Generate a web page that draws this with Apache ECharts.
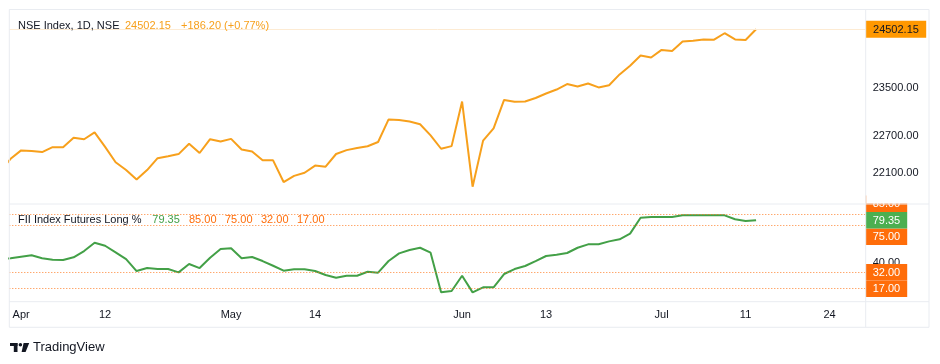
<!DOCTYPE html>
<html><head><meta charset="utf-8">
<script src="https://cdn.jsdelivr.net/npm/echarts@6/dist/echarts.min.js"></script>
<style>html,body{margin:0;padding:0;background:#fff}#c{width:940px;height:364px}</style>
</head><body><div id="c"></div>
<script>
// ---- data ----
const dates = [
 '2024-03-27','2024-03-28',
 '2024-04-01','2024-04-02','2024-04-03','2024-04-04','2024-04-05','2024-04-08','2024-04-09','2024-04-10','2024-04-12','2024-04-15',
 '2024-04-16','2024-04-18','2024-04-19','2024-04-22','2024-04-23','2024-04-24','2024-04-25','2024-04-26','2024-04-29','2024-04-30',
 '2024-05-02','2024-05-03','2024-05-06','2024-05-07','2024-05-08','2024-05-09','2024-05-10','2024-05-13','2024-05-14','2024-05-15',
 '2024-05-16','2024-05-17','2024-05-18','2024-05-21','2024-05-22','2024-05-23','2024-05-24','2024-05-27','2024-05-28','2024-05-29',
 '2024-05-30','2024-05-31',
 '2024-06-03','2024-06-04','2024-06-05','2024-06-06','2024-06-07','2024-06-10','2024-06-11','2024-06-12','2024-06-13','2024-06-14',
 '2024-06-18','2024-06-19','2024-06-20','2024-06-21','2024-06-24','2024-06-25','2024-06-26','2024-06-27','2024-06-28',
 '2024-07-01','2024-07-02','2024-07-03','2024-07-04','2024-07-05','2024-07-08','2024-07-09','2024-07-10','2024-07-11','2024-07-12',
 '2024-07-15','2024-07-16','2024-07-18','2024-07-19','2024-07-22','2024-07-23','2024-07-24'
];
const nseClose = [
 22123.65, 22326.90,
 22462.00, 22453.30, 22434.65, 22514.65, 22513.70, 22666.30, 22642.75, 22753.80, 22519.40, 22272.50,
 22147.90, 21995.85, 22147.00, 22336.40, 22368.00, 22402.40, 22570.35, 22419.95, 22643.40, 22604.85,
 22648.20, 22475.85, 22442.70, 22302.50, 22302.50, 21957.50, 22055.20, 22104.05, 22217.85, 22200.55,
 22403.85, 22466.10, 22502.00, 22529.05, 22597.80, 22967.65, 22957.10, 22932.45, 22888.15, 22704.70,
 22488.65, 22530.70,
 23263.90, 21884.50, 22620.35, 22821.40, 23290.15, 23259.20, 23264.85, 23322.95, 23398.90, 23465.60,
 23557.90, 23516.00, 23567.00, 23501.10, 23537.85, 23721.30, 23868.80, 24044.50, 24010.60,
 24141.95, 24123.85, 24286.50, 24302.15, 24323.85, 24320.55, 24433.20, 24324.45, 24315.95, 24502.15
];
const fiiLong = [
 44.3, 44.7,
 46.1, 47.4, 44.7, 43.4, 43.1, 45.6, 51.3, 58.9, 56.1, 50.1,
 44.0, 33.1, 35.8, 34.9, 34.9, 31.9, 39.5, 35.8, 45.2, 53.1,
 53.8, 44.7, 45.9, 42.2, 37.9, 33.4, 34.7, 34.7, 33.1, 29.5,
 27.0, 28.8, 28.8, 32.5, 31.6, 42.2, 49.2, 52.2, 54.3, 49.8,
 13.7, 14.9,
 28.8, 13.7, 18.3, 18.3, 30.4, 34.9, 37.7, 42.2, 46.8, 48.0,
 49.5, 54.3, 57.4, 57.4, 60.1, 62.0, 67.1, 81.6, 82.3,
 82.3, 82.3, 83.8, 83.8, 83.8, 83.8, 83.8, 80.2, 78.6, 79.35
];
const fiiLevels = [85, 75, 32, 17];
const priceTicks = [22100, 22700, 23500];
const fiiTicks = [40];
const tickDates = ['2024-04-01','2024-04-12','2024-05-02','2024-05-14','2024-06-03','2024-06-13','2024-07-01','2024-07-11','2024-07-24'];
const tickLabels = ['Apr','12','May','14','Jun','13','Jul','11','24'];

// ---- styling ----
const FONT = '"Liberation Sans", Arial, sans-serif';
const TXT = '#131722';
const ORANGE = '#F7A01C';
const GREEN = '#43A047';
const LEVEL = '#FF6D0A';
const BORDER = '#E9ECF1';
const L = 9.3, R = 865.7, W = R - L;
const TOP = 9.5, MID = 204, BOT = 301.7, AXB = 327.3, RB = 929;

const xIdx = tickDates.map(d => dates.indexOf(d));
const labelOf = {};
xIdx.forEach((i, k) => { labelOf[i] = tickLabels[k]; });
const xMin = 0.876, xMax = 82.44;

const chart = echarts.init(document.getElementById('c'));
const axisLabelBase = { color: TXT, fontSize: 11, fontFamily: FONT };

chart.setOption({
  animation: false,
  backgroundColor: '#fff',
  grid: [
    { left: L, top: TOP, width: W, height: MID - TOP },
    { left: L, top: MID, width: W, height: BOT - MID }
  ],
  xAxis: [
    { type: 'value', gridIndex: 0, min: xMin, max: xMax, show: false },
    { type: 'value', gridIndex: 1, min: xMin, max: xMax,
      axisLine: { show: false }, axisTick: { show: false }, splitLine: { show: false },
      axisLabel: Object.assign({ customValues: xIdx, margin: 8,
        formatter: v => labelOf[Math.round(v)] || '' }, axisLabelBase) }
  ],
  yAxis: [
    { type: 'log', gridIndex: 0, position: 'right', min: 21614, max: 24853,
      axisLine: { show: false }, axisTick: { show: false }, splitLine: { show: false },
      axisLabel: Object.assign({ customValues: priceTicks, margin: 7,
        formatter: v => Number(v).toFixed(2) }, axisLabelBase) },
    { type: 'value', gridIndex: 1, position: 'right', min: 5.2, max: 94.1,
      axisLine: { show: false }, axisTick: { show: false }, splitLine: { show: false },
      axisLabel: Object.assign({ customValues: fiiTicks, margin: 7,
        formatter: v => Number(v).toFixed(2) }, axisLabelBase) }
  ],
  series: [
    { type: 'line', xAxisIndex: 0, yAxisIndex: 0, showSymbol: false, symbol: 'none',
      data: nseClose.map((v, i) => [i, v]),
      lineStyle: { color: ORANGE, width: 2 },
      markLine: { silent: true, symbol: 'none', label: { show: false },
        lineStyle: { color: '#FDEBD3', width: 1, type: 'solid' },
        data: [{ yAxis: nseClose[nseClose.length - 1] }] } },
    { type: 'line', xAxisIndex: 1, yAxisIndex: 1, showSymbol: false, symbol: 'none',
      data: fiiLong.map((v, i) => [i, v]),
      lineStyle: { color: GREEN, width: 2 },
      markLine: { silent: true, symbol: 'none', label: { show: false },
        lineStyle: { color: LEVEL, width: 1, type: [1, 2], opacity: 0.85 },
        data: fiiLevels.map(v => ({ yAxis: v })) } }
  ]
});

// ---- overlays: borders, legends, price-scale labels ----
const lastP = nseClose[nseClose.length - 1];
const prevP = nseClose[nseClose.length - 2];
const chg = lastP - prevP;
const pct = chg / prevP * 100;
const lastF = fiiLong[fiiLong.length - 1];

const g = [];
function line(x1, y1, x2, y2, z) {
  g.push({ type: 'line', z: z || 50, silent: true, shape: { x1, y1, x2, y2 }, style: { stroke: BORDER, lineWidth: 1 } });
}
function text(x, y, t, fill, size, align, z) {
  g.push({ type: 'text', x, y, z: z || 60, silent: true,
    style: { text: t, fill, font: (size || 11) + 'px ' + FONT, align: align || 'left', verticalAlign: 'middle' } });
}
function box(x, y, w, h, fill, t, tfill, z) {
  g.push({ type: 'rect', z: z, silent: true, shape: { x, y, width: w, height: h }, style: { fill } });
  text(x + w / 2, y + h / 2 + 0.5, t, tfill, 11, 'center', z + 1);
}

// legends
text(18, 25.5, 'NSE Index, 1D, NSE', TXT);
text(125, 25.5, lastP.toFixed(2), ORANGE);
text(181, 25.5, (chg >= 0 ? '+' : '') + chg.toFixed(2) + ' (' + (pct >= 0 ? '+' : '') + pct.toFixed(2) + '%)', ORANGE);
text(18, 219.5, 'FII Index Futures Long %', TXT);
text(152.3, 219.5, lastF.toFixed(2), GREEN);
fiiLevels.forEach((v, k) => text(189 + k * 36, 219.5, v.toFixed(2), LEVEL));

// price label
const yP = chart.convertToPixel({ seriesIndex: 0 }, [0, lastP])[1];
box(R, yP - 8.5, 60.5, 17, '#FF9800', lastP.toFixed(2), TXT, 100);

// FII labels (stacked like a price scale)
const H = 16.5;
const yF = chart.convertToPixel({ seriesIndex: 1 }, [0, lastF])[1];
const above = fiiLevels.map(v => ({ v, y: chart.convertToPixel({ seriesIndex: 1 }, [0, v])[1] })).filter(o => o.y < yF).sort((a, b) => b.y - a.y);
const below = fiiLevels.map(v => ({ v, y: chart.convertToPixel({ seriesIndex: 1 }, [0, v])[1] })).filter(o => o.y >= yF).sort((a, b) => a.y - b.y);
let edge = yF - H / 2;
above.forEach(o => { const c = Math.min(o.y, edge - H / 2); box(R, c - H / 2, 41.5, H, LEVEL, o.v.toFixed(2), '#fff', 100); edge = c - H / 2; });
edge = yF + H / 2;
below.forEach(o => { const c = Math.max(o.y, edge + H / 2); box(R, c - H / 2, 41.5, H, LEVEL, o.v.toFixed(2), '#fff', 100); edge = c + H / 2; });
box(R, yF - H / 2, 41.5, H, '#4CAF50', lastF.toFixed(2), '#fff', 104);

// cover labels spilling into the upper pane scale
g.push({ type: 'rect', z: 110, silent: true, shape: { x: R + 0.5, y: 186, width: RB - R - 1, height: MID - 186 - 0.5 }, style: { fill: '#fff' } });

// frame
line(L, TOP, RB, TOP, 120);
line(L, TOP, L, AXB, 120);
line(RB, TOP, RB, AXB, 120);
line(L, AXB, RB, AXB, 120);
line(L, MID, RB, MID, 120);
line(L, BOT, RB, BOT, 120);
line(R, TOP, R, AXB, 120);

// TradingView logo
g.push({ type: 'rect', z: 60, silent: true, shape: { x: 10, y: 343, width: 7.5, height: 3 }, style: { fill: TXT } });
g.push({ type: 'rect', z: 60, silent: true, shape: { x: 13.8, y: 343, width: 3.7, height: 9 }, style: { fill: TXT } });
g.push({ type: 'circle', z: 60, silent: true, shape: { cx: 20.4, cy: 344.7, r: 1.8 }, style: { fill: TXT } });
g.push({ type: 'polygon', z: 60, silent: true, shape: { points: [[23.6, 343], [29.2, 343], [25.6, 352], [21.6, 352]] }, style: { fill: TXT } });
text(33, 347.5, 'TradingView', TXT, 13);

chart.setOption({ graphic: g });
</script>
</body></html>
